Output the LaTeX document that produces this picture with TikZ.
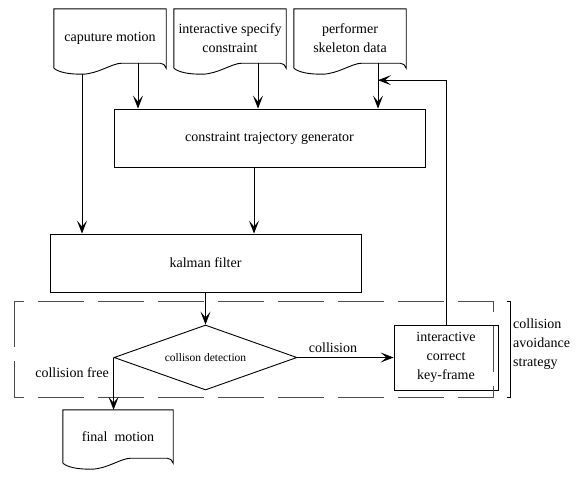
\documentclass[tikz,border=0pt]{standalone}
\usepackage{fontspec}
\setmainfont{LiberationSerif}[Extension=.ttf, UprightFont=*-Regular, BoldFont=*-Bold, ItalicFont=*-Italic]
\usetikzlibrary{arrows.meta, positioning, shapes.geometric, calc}

% outline of a document symbol around a plain node
\newcommand{\docoutline}[1]{%
  \draw[line width=0.9pt] (#1.south west) -- (#1.north west) -- (#1.north east) -- (#1.south east)
    .. controls +(-1pt,3pt) and +(3pt,0pt) .. ($(#1.south east)+(-6pt,5pt)$)
    -- ($(#1.south west)+(68pt,5pt)$)
    .. controls +(-10pt,0pt) and +(16pt,0pt) .. ($(#1.south west)+(28pt,-6pt)$)
    .. controls +(-14pt,0pt) and +(5pt,-4pt) .. (#1.south west);}

\begin{document}
\begin{tikzpicture}[
    x=1pt, y=-1pt,
    font=\rmfamily\fontsize{14}{19}\selectfont,
    doc/.style={minimum width=112pt, minimum height=59pt, inner sep=1pt, align=center},
    box/.style={draw, line width=0.9pt, minimum width=311pt, minimum height=58pt},
    dec/.style={diamond, draw, line width=0.9pt, aspect=2.8, minimum width=183pt, minimum height=65pt, inner sep=0pt, font=\rmfamily\fontsize{11.5}{13}\selectfont},
    arr/.style={-{Stealth[length=13pt, width=10pt, inset=6pt]}, line width=0.8pt},
    zone/.style={draw=black!70, line width=0.8pt, dash pattern=on 46pt off 14pt}
]
\useasboundingbox (0,0) rectangle (577,477);

% Inputs (top row)
\node[doc] (cap) at (110,38.5) {caputure motion};
\node[doc] (spec) at (230,38.5) {interactive specify\\constraint};
\node[doc] (perf) at (350,38.5) {performer\\skeleton data};
\foreach \n in {cap, spec, perf} {\docoutline{\n}}

% Processing
\node[box] (gen) at (269.5,138) {constraint trajectory generator};
\node[box] (kal) at (205.5,263) {kalman filter};
\node[dec] (det) at (205.5,357.5) {collison detection};
\node[box, minimum width=104pt, minimum height=65pt, align=center] (fix) at (446,357.5) {interactive\\correct\\key-frame};

% Output
\node[doc, minimum width=110pt, minimum height=53pt] (fin) at (118,436.5) {final~ motion};
\docoutline{fin}

% Collision avoidance zone
\draw[zone] (14,301) rectangle (493,397);
\draw[line width=0.8pt] (507,301) -- (510,301) -- (510,397) -- (507,397);
\node[anchor=west, align=left, inner sep=1pt] (strat) at (512,344) {collision\\avoidance\\strategy};

% Arrows
\draw[arr] ([xshift=28pt,yshift=5pt]cap.south) coordinate (t) -- (t |- gen.north);
\draw[arr] ([xshift=28pt,yshift=5pt]spec.south) coordinate (t) -- (t |- gen.north);
\draw[arr] ([xshift=28pt,yshift=5pt]perf.south) coordinate (t) -- (t |- gen.north);
\draw[arr] ([xshift=-28pt,yshift=-6pt]cap.south) coordinate (t) -- (t |- kal.north);
\draw[arr] ([xshift=-15.5pt]gen.south) coordinate (t) -- (t |- kal.north);
\draw[arr] (kal.south) -- (det.north);
\draw[arr] (det.east) -- (fix.west) node[pos=0.37, above=1pt] {collision};
\draw[arr] (det.west) -- (det.west |- fin.north) node[pos=0.28, left=1pt] {collision free};

% Feedback
\coordinate (back) at ([xshift=28pt,yshift=-12pt]perf.south);
\draw[arr] (fix.north) |- (back);
\end{tikzpicture}
\end{document}
